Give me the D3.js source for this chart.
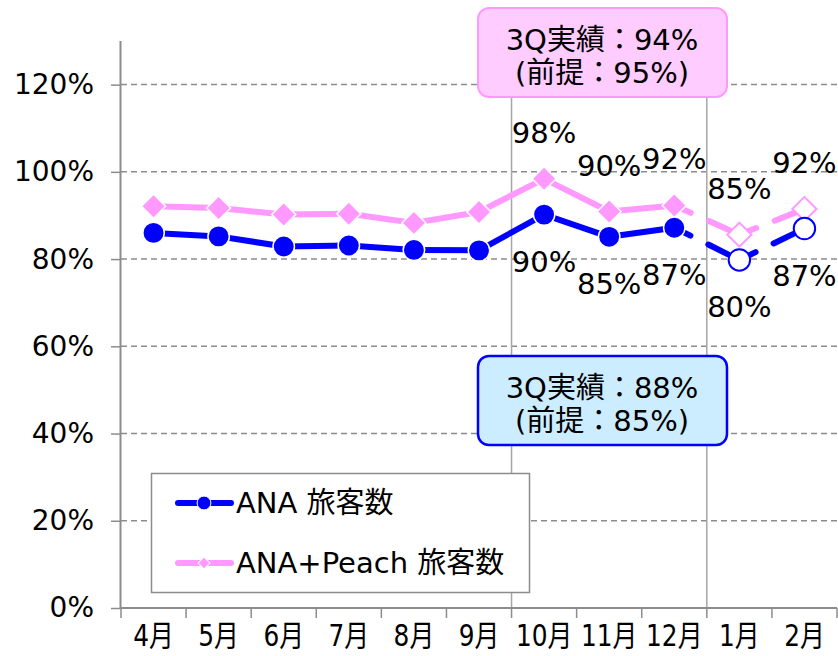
<!DOCTYPE html>
<html>
<head>
<meta charset="utf-8">
<script src="https://cdn.jsdelivr.net/npm/d3@7"></script>
<style>
  body { margin: 0; background: #fff; }
  svg { font-family: "DejaVu Sans", "Noto Sans CJK JP", sans-serif; }
</style>
</head>
<body>
<div id="wrapper"></div>
<script>
const months = ["4月", "5月", "6月", "7月", "8月", "9月", "10月", "11月", "12月", "1月", "2月"]
const anaValues = [0.860, 0.852, 0.829, 0.831, 0.821, 0.820, 0.902, 0.851, 0.872, 0.798, 0.870]
const peachValues = [0.921, 0.917, 0.902, 0.904, 0.883, 0.908, 0.984, 0.909, 0.923, 0.856, 0.915]
const forecast = [false, false, false, false, false, false, false, false, false, true, true]
const anaLabels = [null, null, null, null, null, null, "90%", "85%", "87%", "80%", "87%"]
const peachLabels = [null, null, null, null, null, null, "98%", "90%", "92%", "85%", "92%"]
const yTicks = [0, 0.2, 0.4, 0.6, 0.8, 1.0, 1.2]
const peachNote = ["3Q実績：94%", "(前提：95%)"]
const anaNote = ["3Q実績：88%", "(前提：85%)"]
const legendNames = ["ANA 旅客数", "ANA+Peach 旅客数"]

const width = 838
let dimensions = {
    width: width,
    height: 656,
    margin: { top: 41, right: 1, bottom: 48, left: 121 },
}
dimensions.boundedWidth = dimensions.width - dimensions.margin.left - dimensions.margin.right
dimensions.boundedHeight = dimensions.height - dimensions.margin.top - dimensions.margin.bottom

const blue = "#0000ff"
const pink = "#ff99ff"

const wrapper = d3.select("#wrapper")
    .append("svg")
    .attr("width", dimensions.width)
    .attr("height", dimensions.height)

const xScaler = d3.scaleBand()
    .domain(months)
    .range([dimensions.margin.left, dimensions.width - dimensions.margin.right])
const yScaler = d3.scaleLinear()
    .domain([0, 1.3])
    .range([dimensions.height - dimensions.margin.bottom, dimensions.margin.top])

const cx = i => xScaler(months[i]) + xScaler.bandwidth() / 2
const x0 = dimensions.margin.left
const x1 = dimensions.width - dimensions.margin.right
const yBase = yScaler(0)

// grid lines
wrapper.append("g")
    .selectAll("line")
    .data(yTicks.filter(d => d > 0))
    .join("line")
    .attr("x1", x0).attr("x2", x1)
    .attr("y1", d => yScaler(d)).attr("y2", d => yScaler(d))
    .attr("stroke", "#8c8c8c")
    .attr("stroke-width", 1.5)
    .attr("stroke-dasharray", "6,4")

// quarter separators
const sepMonths = ["10月", "1月"]
wrapper.append("g")
    .selectAll("line")
    .data(sepMonths)
    .join("line")
    .attr("x1", d => xScaler(d)).attr("x2", d => xScaler(d))
    .attr("y1", yScaler(1.3)).attr("y2", yBase)
    .attr("stroke", "#a6a6a6")
    .attr("stroke-width", 1.5)

// y axis
const yAxisGen = d3.axisLeft(yScaler)
    .tickValues(yTicks)
    .tickFormat(d3.format(".0%"))
    .tickSize(10)
    .tickPadding(17)
const yAxis = wrapper.append("g")
    .attr("transform", `translate(${x0},0)`)
    .call(yAxisGen)
yAxis.select(".domain").attr("d", `M-0.5,${yScaler(1.3)}V${yBase}`)
yAxis.selectAll("line").attr("stroke", "#8c8c8c").attr("stroke-width", 1.5)
yAxis.select(".domain").attr("stroke", "#8c8c8c").attr("stroke-width", 2)
yAxis.selectAll("text")
    .attr("font-size", "28px")
    .attr("fill", "#000")
    .attr("font-family", "DejaVu Sans, Noto Sans CJK JP, sans-serif")

// x axis
const xAxisGen = d3.axisBottom(xScaler).tickSize(0)
const xAxis = wrapper.append("g")
    .attr("transform", `translate(0,${yBase})`)
    .call(xAxisGen)
xAxis.select(".domain").attr("stroke", "#8c8c8c").attr("stroke-width", 2)
    .attr("d", `M${x0},0H${x1}`)
xAxis.selectAll("text")
    .attr("font-size", "27px")
    .attr("fill", "#000")
    .attr("y", 35)
    .attr("dy", null)
    .attr("transform", "scale(0.92,1.1)")
    .attr("font-family", "DejaVu Sans, Noto Sans CJK JP, sans-serif")
xAxis.append("g")
    .selectAll("line")
    .data(months.concat(["end"]))
    .join("line")
    .attr("x1", (d, i) => i < months.length ? xScaler(d) : x1)
    .attr("x2", (d, i) => i < months.length ? xScaler(d) : x1)
    .attr("y1", 0).attr("y2", 10)
    .attr("stroke", "#8c8c8c").attr("stroke-width", 1.5)

// series drawing
function drawSeries(values, color, shape) {
    const g = wrapper.append("g")
    const segs = d3.range(values.length - 1).map(i => ({ a: i, b: i + 1, dashed: forecast[i + 1] }))
    g.selectAll("line")
        .data(segs)
        .join("line")
        .attr("x1", d => cx(d.a)).attr("y1", d => yScaler(values[d.a]))
        .attr("x2", d => cx(d.b)).attr("y2", d => yScaler(values[d.b]))
        .attr("stroke", color)
        .attr("stroke-width", 6)
        .attr("stroke-linecap", "round")
        .attr("stroke-dasharray", d => d.dashed ? "18,20,22,100" : null)

    const sym = d3.symbol()
        .type(shape === "circle" ? d3.symbolCircle : d3.symbolSquare)
        .size(shape === "circle" ? 360 : 290)
    g.selectAll("path.mk")
        .data(values)
        .join("path")
        .attr("class", "mk")
        .attr("d", sym)
        .attr("transform", (d, i) => `translate(${cx(i)},${yScaler(d)})` + (shape === "circle" ? "" : " rotate(45)"))
        .attr("fill", (d, i) => forecast[i] ? "#fff" : color)
        .attr("stroke", (d, i) => forecast[i] ? color : "#fff")
        .attr("stroke-width", (d, i) => forecast[i] ? 2 : 1.5)
}
drawSeries(peachValues, pink, "diamond")
drawSeries(anaValues, blue, "circle")

// data labels
function drawLabels(values, labels, offset) {
    wrapper.append("g")
        .selectAll("text")
        .data(values.map((v, i) => ({ v, i, t: labels[i] })).filter(d => d.t))
        .join("text")
        .attr("x", d => cx(d.i))
        .attr("y", d => yScaler(d.v) + offset + 10)
        .attr("text-anchor", "middle")
        .attr("font-size", "29px")
        .attr("fill", "#000")
        .text(d => d.t)
}
drawLabels(peachValues, peachLabels, -46)
drawLabels(anaValues, anaLabels, 47)

// note boxes
function drawNote(y, fill, stroke, lines, sw) {
    const g = wrapper.append("g")
    g.append("rect")
        .attr("x", 478).attr("y", y)
        .attr("width", 249).attr("height", 89)
        .attr("rx", 11)
        .attr("fill", fill)
        .attr("stroke", stroke)
        .attr("stroke-width", sw)
    g.selectAll("text")
        .data(lines)
        .join("text")
        .attr("x", 602)
        .attr("y", (d, i) => y + 42 + i * 33)
        .attr("text-anchor", "middle")
        .attr("font-size", "29px")
        .attr("fill", "#000")
        .text(d => d)
}
drawNote(8, "#ffccff", pink, peachNote, 2)
drawNote(356, "#ccecff", blue, anaNote, 2.5)

// legend
const legend = wrapper.append("g")
legend.append("rect")
    .attr("x", 151.5).attr("y", 473.5)
    .attr("width", 378).attr("height", 119)
    .attr("fill", "#fff")
    .attr("stroke", "#8c8c8c")
    .attr("stroke-width", 1.5)
const legendItems = [
    { name: legendNames[0], color: blue, shape: d3.symbolCircle, size: 150, rot: "" },
    { name: legendNames[1], color: pink, shape: d3.symbolSquare, size: 70, rot: " rotate(45)" },
]
legendItems.forEach((d, i) => {
    const ly = 503 + i * 60
    legend.append("line")
        .attr("x1", 178).attr("x2", 231)
        .attr("y1", ly).attr("y2", ly)
        .attr("stroke", d.color).attr("stroke-width", 6)
        .attr("stroke-linecap", "round")
    legend.append("path")
        .attr("d", d3.symbol().type(d.shape).size(d.size))
        .attr("transform", `translate(204,${ly})` + d.rot)
        .attr("fill", d.color)
        .attr("stroke", "#fff").attr("stroke-width", 1)
    legend.append("text")
        .attr("x", 236).attr("y", ly + 10)
        .attr("font-size", "29px")
        .attr("fill", "#000")
        .text(d.name)
})
</script>
</body>
</html>
